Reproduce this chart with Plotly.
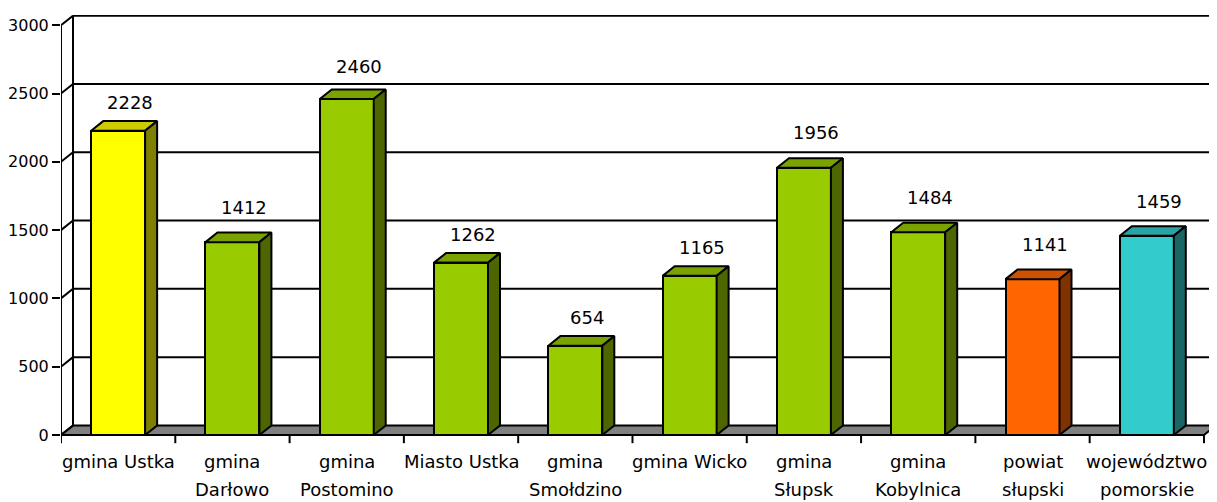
import plotly.graph_objects as go

categories = ["gmina Ustka", "gmina<br>Darłowo", "gmina<br>Postomino", "Miasto Ustka",
              "gmina<br>Smołdzino", "gmina Wicko", "gmina<br>Słupsk", "gmina<br>Kobylnica",
              "powiat<br>słupski", "województwo<br>pomorskie"]
values = [2228, 1412, 2460, 1262, 654, 1165, 1956, 1484, 1141, 1459]
y_ticks = [0, 500, 1000, 1500, 2000, 2500, 3000]

# face colours: front, top, side
yellow = ("#FFFF00", "#CCCC00", "#808000")
green = ("#99CC00", "#7AA300", "#4D6600")
orange = ("#FF6600", "#CC5200", "#803300")
teal = ("#33CCCC", "#29A3A3", "#1A6666")
bar_colors = [yellow] + [green] * 7 + [orange, teal]
# extra lift (px) for some value labels, as placed in the original
label_lift = [0, 7, 4, 0, 0, 0, 7, 7, 7, 6]

n = len(values)
dx, dy = 0.105, 70      # depth offset in axis units
half = 0.236            # half of the front face width
ymax = y_ticks[-1]

fig = go.Figure()

# front faces
fig.add_trace(go.Bar(
    x=[i + 0.5 for i in range(n)], y=values, width=2 * half,
    marker=dict(color=[c[0] for c in bar_colors], line=dict(color="black", width=2)),
    hoverinfo="skip", showlegend=False))

# top and side faces
for i, v in enumerate(values):
    x0, x1 = i + 0.5 - half, i + 0.5 + half
    fig.add_trace(go.Scatter(
        x=[x0, x1, x1 + dx, x0 + dx, x0], y=[v, v, v + dy, v + dy, v],
        fill="toself", fillcolor=bar_colors[i][1], mode="lines",
        line=dict(color="black", width=2), hoverinfo="skip", showlegend=False))
    fig.add_trace(go.Scatter(
        x=[x1, x1 + dx, x1 + dx, x1, x1], y=[0, dy, v + dy, v, 0],
        fill="toself", fillcolor=bar_colors[i][2], mode="lines",
        line=dict(color="black", width=2), hoverinfo="skip", showlegend=False))
    fig.add_annotation(x=i + 0.5 + dx, y=v + dy, text=str(v), showarrow=False,
                       yanchor="bottom", yshift=6 + label_lift[i],
                       font=dict(size=18, color="black"))

# category labels, one annotation per text line
for i, label in enumerate(categories):
    for k, part in enumerate(label.split("<br>")):
        fig.add_annotation(x=i + 0.5, y=0, text=part, showarrow=False, yanchor="middle",
                           yshift=-27 - 28 * k, font=dict(size=18, color="black"))

shapes = []
# floor
shapes.append(dict(type="path", layer="below",
                   path=f"M0,0 L{n},0 L{n + dx},{dy} L{dx},{dy} Z",
                   fillcolor="#808080", line=dict(color="black", width=2)))
# back wall gridlines and left wall diagonals
for t in y_ticks:
    if t > 0:
        shapes.append(dict(type="line", layer="below", x0=dx, x1=n + dx, y0=t + dy, y1=t + dy,
                           line=dict(color="black", width=2)))
    shapes.append(dict(type="line", layer="below", x0=0, x1=dx, y0=t, y1=t + dy,
                       line=dict(color="black", width=2)))
shapes.append(dict(type="line", layer="below", x0=dx, x1=dx, y0=dy, y1=ymax + dy,
                   line=dict(color="black", width=2)))
shapes.append(dict(type="line", layer="below", x0=n + dx, x1=n + dx, y0=dy, y1=ymax + dy,
                   line=dict(color="#808080", width=2)))
# front axes
shapes.append(dict(type="line", x0=0, x1=0, y0=0, y1=ymax, line=dict(color="black", width=2)))
shapes.append(dict(type="line", x0=0, x1=n, y0=0, y1=0, line=dict(color="black", width=2)))
# category tick marks
for i in range(n + 1):
    shapes.append(dict(type="line", x0=i, x1=i, y0=0, y1=-60, line=dict(color="black", width=2)))

# page body has an 8px margin, so the figure is 8px smaller than the window
fig.update_layout(
    width=1209, height=494,
    margin=dict(l=53, r=0, t=7, b=58),
    plot_bgcolor="white", paper_bgcolor="white",
    font=dict(family="DejaVu Sans", color="black"),
    shapes=shapes, bargap=0,
)
fig.update_xaxes(range=[0, n + 0.114], showticklabels=False,
                 showgrid=False, zeroline=False, showline=False, ticks="", automargin=False)
fig.update_yaxes(range=[-66, ymax + 75], tickvals=y_ticks, showgrid=False, zeroline=False,
                 showline=False, ticks="outside", ticklen=8, tickwidth=2, tickcolor="black",
                 tickfont=dict(size=16), automargin=False)

fig.write_html("out.html")
